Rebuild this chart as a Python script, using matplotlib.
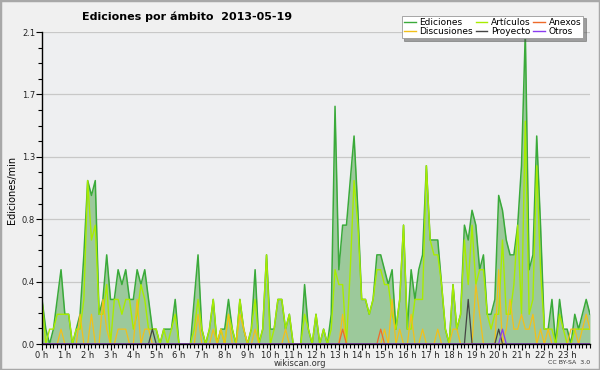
import numpy as np
import matplotlib
matplotlib.use("Agg")
import matplotlib.pyplot as plt
from matplotlib.patches import Rectangle

# edits per minute, one value every 10 minutes (0 h .. 24 h)
ediciones = [
    0.3, 0.1, 0.0, 0.1, 0.3, 0.5, 0.2, 0.2, 0.0, 0.1,
    0.2, 0.6, 1.1, 1.0, 1.1, 0.2, 0.3, 0.6, 0.3, 0.3,
    0.5, 0.4, 0.5, 0.3, 0.3, 0.5, 0.4, 0.5, 0.3, 0.1,
    0.1, 0.0, 0.1, 0.1, 0.1, 0.3, 0.0, 0.0, 0.0, 0.0,
    0.3, 0.6, 0.1, 0.0, 0.1, 0.3, 0.0, 0.1, 0.1, 0.3,
    0.1, 0.0, 0.3, 0.1, 0.0, 0.1, 0.5, 0.0, 0.1, 0.6,
    0.1, 0.1, 0.3, 0.3, 0.1, 0.2, 0.0, 0.0, 0.0, 0.4,
    0.1, 0.0, 0.2, 0.0, 0.1, 0.0, 0.2, 1.6, 0.5, 0.8,
    0.8, 1.1, 1.4, 0.9, 0.3, 0.3, 0.2, 0.3, 0.6, 0.6,
    0.5, 0.4, 0.5, 0.1, 0.3, 0.8, 0.1, 0.5, 0.3, 0.5,
    0.6, 1.2, 0.7, 0.7, 0.7, 0.4, 0.1, 0.0, 0.4, 0.1,
    0.2, 0.8, 0.7, 0.9, 0.8, 0.5, 0.6, 0.2, 0.2, 0.3,
    1.0, 0.9, 0.7, 0.6, 0.6, 0.8, 1.2, 2.1, 0.5, 0.6,
    1.4, 0.8, 0.1, 0.1, 0.3, 0.0, 0.3, 0.1, 0.1, 0.0,
    0.2, 0.1, 0.2, 0.3, 0.2,
]
articulos = [
    0.3, 0.0, 0.1, 0.1, 0.2, 0.2, 0.2, 0.2, 0.0, 0.1,
    0.1, 0.3, 1.1, 0.7, 0.8, 0.2, 0.2, 0.4, 0.0, 0.3,
    0.3, 0.2, 0.3, 0.3, 0.1, 0.2, 0.4, 0.3, 0.1, 0.1,
    0.1, 0.0, 0.1, 0.0, 0.1, 0.2, 0.0, 0.0, 0.0, 0.0,
    0.1, 0.3, 0.1, 0.0, 0.1, 0.3, 0.0, 0.1, 0.0, 0.2,
    0.1, 0.0, 0.3, 0.1, 0.0, 0.1, 0.3, 0.0, 0.1, 0.6,
    0.0, 0.1, 0.3, 0.3, 0.1, 0.2, 0.0, 0.0, 0.0, 0.2,
    0.1, 0.0, 0.2, 0.0, 0.1, 0.0, 0.1, 0.5, 0.4, 0.4,
    0.0, 0.5, 1.1, 0.8, 0.3, 0.3, 0.2, 0.3, 0.5, 0.5,
    0.4, 0.4, 0.2, 0.1, 0.3, 0.8, 0.1, 0.1, 0.3, 0.3,
    0.3, 1.2, 0.7, 0.6, 0.6, 0.4, 0.1, 0.0, 0.4, 0.1,
    0.2, 0.7, 0.4, 0.8, 0.4, 0.5, 0.5, 0.2, 0.1, 0.2,
    0.2, 0.7, 0.2, 0.2, 0.4, 0.8, 0.2, 1.5, 0.2, 0.3,
    1.2, 0.5, 0.1, 0.1, 0.1, 0.0, 0.2, 0.1, 0.0, 0.0,
    0.1, 0.1, 0.1, 0.1, 0.1,
]
discusiones = [
    0.0, 0.0, 0.0, 0.0, 0.0, 0.1, 0.0, 0.0, 0.0, 0.0,
    0.2, 0.0, 0.0, 0.2, 0.0, 0.0, 0.3, 0.1, 0.0, 0.0,
    0.1, 0.1, 0.1, 0.0, 0.0, 0.3, 0.0, 0.1, 0.1, 0.0,
    0.0, 0.0, 0.0, 0.0, 0.0, 0.0, 0.0, 0.0, 0.0, 0.0,
    0.0, 0.2, 0.0, 0.0, 0.0, 0.1, 0.0, 0.1, 0.0, 0.2,
    0.0, 0.0, 0.2, 0.1, 0.0, 0.0, 0.1, 0.0, 0.0, 0.0,
    0.0, 0.0, 0.0, 0.0, 0.1, 0.0, 0.0, 0.0, 0.0, 0.0,
    0.0, 0.0, 0.0, 0.0, 0.0, 0.0, 0.0, 0.0, 0.0, 0.2,
    0.0, 0.0, 0.0, 0.0, 0.0, 0.0, 0.0, 0.0, 0.0, 0.0,
    0.1, 0.0, 0.3, 0.0, 0.1, 0.0, 0.0, 0.2, 0.0, 0.0,
    0.1, 0.0, 0.0, 0.0, 0.1, 0.0, 0.0, 0.0, 0.1, 0.1,
    0.0, 0.0, 0.0, 0.0, 0.4, 0.2, 0.0, 0.0, 0.0, 0.0,
    0.5, 0.0, 0.1, 0.3, 0.1, 0.1, 0.2, 0.1, 0.1, 0.2,
    0.0, 0.1, 0.0, 0.1, 0.0, 0.0, 0.0, 0.0, 0.0, 0.1,
    0.1, 0.0, 0.1, 0.2, 0.1,
]
anexos = [0.0] * 145
anexos[79] = 0.1
anexos[89] = 0.1
proyecto = [0.0] * 145
proyecto[29] = 0.1
proyecto[112] = 0.3
proyecto[120] = 0.1
otros = [0.0] * 145
otros[121] = 0.1

hours = np.arange(len(ediciones)) / 6.0
title = "Ediciones por ámbito  2013-05-19"
ymax = 2.1

fig = plt.figure(figsize=(6, 3.7), dpi=100, facecolor="#f0f0f0")
fig.patches.append(Rectangle((0, 0), 1, 1, transform=fig.transFigure,
                             fill=False, edgecolor="#a8a8a8", lw=2.5))
ax = fig.add_axes([42/600, 1-344/370, 548/600, 312/370])
ax.set_facecolor("#eeeff1")

ax.fill_between(hours, ediciones, color="#9cc99b", lw=0)
ax.plot(hours, ediciones, color="#3aaa3a", lw=1.1, label="Ediciones")
ax.plot(hours, articulos, color="#a8ec00", lw=1.0, label="Artículos")
ax.plot(hours, discusiones, color="#f2c01a", lw=0.9, label="Discusiones")
ax.plot(hours, anexos, color="#ee6a2a", lw=0.9, label="Anexos")
ax.plot(hours, proyecto, color="#444444", lw=0.9, label="Proyecto")
ax.plot(hours, otros, color="#8a3cf0", lw=0.9, label="Otros")

ax.set_xlim(0, 24)
ax.set_ylim(0, ymax)
yt = np.linspace(0, ymax, 6)
ax.set_yticks(yt)
ax.set_yticklabels([f"{v:.1f}" for v in yt])
ax.set_yticks(np.linspace(0, ymax, 21), minor=True)
ax.set_xticks(range(24))
ax.set_xticklabels([f"{h} h" for h in range(24)])
ax.set_xticks(np.arange(0, 24.01, 1/6), minor=True)
ax.tick_params(labelsize=6, colors="#222222", pad=1)
ax.tick_params(axis="both", which="major", length=4, width=0.8, color="black")
ax.tick_params(axis="both", which="minor", length=3, width=0.8, color="black")
for y in yt[1:]:
    ax.axhline(y, color="#c8c8c8", lw=0.9, zorder=0)
for s in ["top", "right"]:
    ax.spines[s].set_visible(False)
ax.spines["left"].set_linewidth(1.0)
ax.spines["bottom"].set_linewidth(1.0)

fig.text(12/600, 1-190/370, "Ediciones/min", rotation=90, fontsize=7,
         ha="center", va="center")
fig.text(187/600, 1-17/370, title, fontsize=8, fontweight="bold",
         ha="center", va="center")
fig.text(300/600, 1-363/370, "wikiscan.org", fontsize=6, ha="center",
         va="center", color="#333333")
fig.text(590/600, 1-363/370, "CC BY-SA  3.0", fontsize=4.5, ha="right",
         va="center", color="#333333")

handles, labels = ax.get_legend_handles_labels()
order = [0, 2, 1, 4, 3, 5]
leg = fig.legend([handles[i] for i in order], [labels[i] for i in order],
                 ncol=3, loc="upper right", bbox_to_anchor=(588/600, 1-11/370),
                 fontsize=6.5, frameon=True, fancybox=False, shadow=True,
                 handlelength=1.3, handletextpad=0.4, columnspacing=0.3,
                 labelspacing=0.05, borderpad=0.25)
leg.get_frame().set_edgecolor("#999999")
leg.get_frame().set_linewidth(0.6)
for line in leg.get_lines():
    line.set_linewidth(1.0)

fig.savefig("out.png", dpi=100, facecolor=fig.get_facecolor())
